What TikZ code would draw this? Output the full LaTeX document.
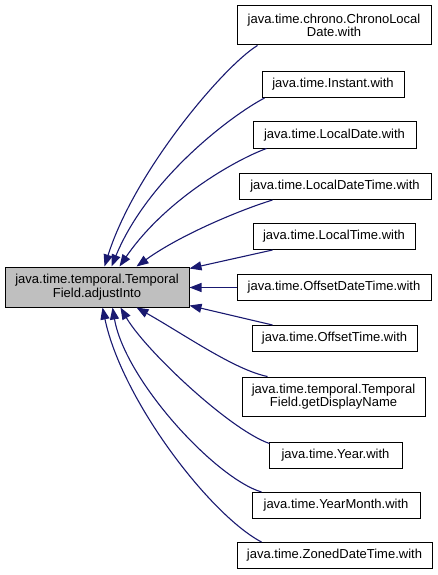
\documentclass[tikz,border=0pt]{standalone}
\usepackage{fontspec}
\setmainfont{Liberation Sans}
\usetikzlibrary{arrows.meta}
\definecolor{edgeblue}{HTML}{191970}
\definecolor{maingray}{HTML}{BFBFBF}
\begin{document}
\begin{tikzpicture}[x=1pt,y=-1pt,
  font=\fontsize{13}{13.5}\selectfont,
  box/.style={draw=black, line width=1pt, inner sep=0pt, align=center, minimum height=26pt},
  edge/.style={draw=edgeblue, line width=1.1pt, -{Triangle[length=12pt,width=9pt]}}]
\useasboundingbox (0,0) rectangle (437,575);
\node[box, fill=maingray, minimum width=184pt, minimum height=40pt] (main) at (97,287) {java.time.temporal.Temporal\\Field.adjustInto};
\node[box, minimum width=194pt, minimum height=39pt] (chrono) at (334,25.5) {java.time.chrono.ChronoLocal\\Date.with};
\node[box, minimum width=142pt] (instant) at (333,84.5) {java.time.Instant.with};
\node[box, minimum width=163pt] (localdate) at (334.5,135) {java.time.LocalDate.with};
\node[box, minimum width=192pt] (localdatetime) at (335,186.5) {java.time.LocalDateTime.with};
\node[box, minimum width=162pt] (localtime) at (334,236.5) {java.time.LocalTime.with};
\node[box, minimum width=194pt] (offsetdatetime) at (334,287.5) {java.time.OffsetDateTime.with};
\node[box, minimum width=165pt] (offsettime) at (334.5,338.5) {java.time.OffsetTime.with};
\node[box, minimum width=183pt, minimum height=39pt] (getdisplay) at (333.5,396.5) {java.time.temporal.Temporal\\Field.getDisplayName};
\node[box, minimum width=133pt] (year) at (335.5,455) {java.time.Year.with};
\node[box, minimum width=168pt] (yearmonth) at (336,505.5) {java.time.YearMonth.with};
\node[box, minimum width=195pt] (zoned) at (334.5,555.5) {java.time.ZonedDateTime.with};

\draw[edge] ([xshift=21pt]chrono.south west) .. controls (225,65) and (135,170) .. ([xshift=100pt]main.north west);
\draw[edge] ([xshift=3pt]instant.south west) .. controls (232,115) and (148,178) .. ([xshift=107pt]main.north west);
\draw[edge] ([xshift=14pt]localdate.south west) .. controls (235,160) and (165,200) .. ([xshift=115pt]main.north west);
\draw[edge] ([xshift=34pt]localdatetime.south west) .. controls (240,210) and (180,235) .. ([xshift=132pt]main.north west);
\draw[edge] ([xshift=20pt]localtime.south west) -- ([yshift=-2pt]main.north east);
\draw[edge] (offsetdatetime.west) -- (main.east |- offsetdatetime.west);
\draw[edge] ([xshift=21pt]offsettime.north west) -- ([yshift=2pt]main.south east);
\draw[edge] ([xshift=26pt]getdisplay.north west) .. controls (235,370) and (185,335) .. ([xshift=132pt]main.south west);
\draw[edge] ([xshift=1pt,yshift=-2pt]year.north west) .. controls (230,430) and (145,350) .. ([xshift=116pt]main.south west);
\draw[edge] ([xshift=10pt]yearmonth.north west) .. controls (215,478) and (125,380) .. ([xshift=108pt]main.south west);
\draw[edge] ([xshift=25pt]zoned.north west) .. controls (210,515) and (122,400) .. ([xshift=98pt]main.south west);
\end{tikzpicture}
\end{document}
